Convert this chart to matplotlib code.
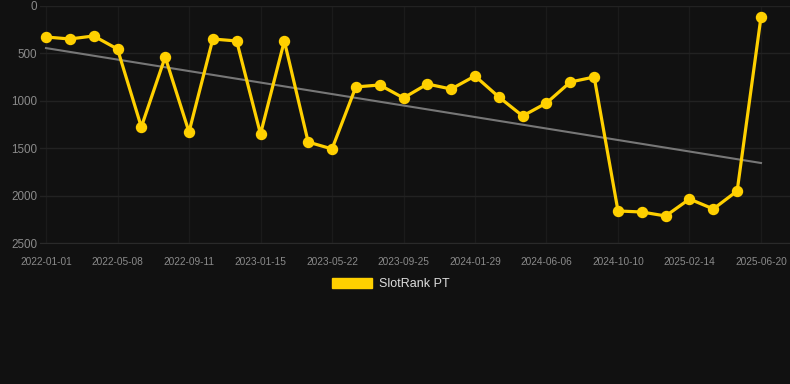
import numpy as np
import matplotlib.pyplot as plt

# SlotRank PT positions (lower is better, axis is inverted)
ranks = [327, 348, 316, 454, 1276, 538, 1329, 348, 369, 1350,
         369, 1435, 1508, 854, 833, 970, 823, 876, 738, 960,
         1160, 1023, 802, 749, 2162, 2173, 2215, 2036, 2141, 1951, 116]
tick_labels = ['2022-01-01', '2022-05-08', '2022-09-11', '2023-01-15',
               '2023-05-22', '2023-09-25', '2024-01-29', '2024-06-06',
               '2024-10-10', '2025-02-14', '2025-06-20']
y_ticks = [0, 500, 1000, 1500, 2000, 2500]

bg = '#111111'
gold = '#FFD000'

x = np.arange(len(ranks))
slope, intercept = np.polyfit(x, ranks, 1)

fig = plt.figure(figsize=(7.9, 3.84), dpi=100, facecolor=bg)
ax = fig.add_axes([40 / 790, 141 / 384, 750 / 790, 237 / 384])
ax.set_facecolor(bg)

ax.plot(x, slope * x + intercept, color='#777777', lw=1.5, zorder=2)
ax.plot(x, ranks, color=gold, lw=2.3, marker='o', markersize=7.2,
        zorder=3, label='SlotRank PT')

ax.set_xlim(-0.252, 31.217)
ax.set_ylim(2500, 0)
ax.set_yticks(y_ticks)
ax.set_xticks(x[::3])
ax.set_xticklabels(tick_labels)

ax.grid(True, axis='y', color='#222222', lw=1.0, zorder=0)
ax.grid(True, axis='x', color='#1b1b1b', lw=1.0, zorder=0)
for s in ax.spines.values():
    s.set_visible(False)
ax.spines['bottom'].set_visible(True)
ax.spines['bottom'].set_color('#2a2a2a')
ax.tick_params(axis='both', length=0, colors='#8a8a8a')
ax.tick_params(axis='y', labelsize=8.4, pad=2)
ax.tick_params(axis='x', labelsize=7.3, pad=10)
for lbl in ax.get_xticklabels() + ax.get_yticklabels():
    lbl.set_family(['Liberation Sans', 'DejaVu Sans'])

handle = plt.Rectangle((0, 0), 1, 1, color=gold)
leg = fig.legend([handle], ['SlotRank PT'], loc='center',
                 bbox_to_anchor=(391 / 790, 1 - 284 / 384), frameon=False,
                 handlelength=3.2, handleheight=0.85, handletextpad=0.55,
                 prop={'family': ['Liberation Sans', 'DejaVu Sans'], 'size': 9})
for t in leg.get_texts():
    t.set_color('#dddddd')

fig.savefig('out.png', dpi=100, facecolor=bg)
